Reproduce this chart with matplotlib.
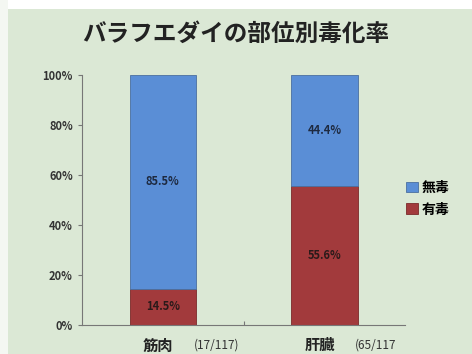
import matplotlib
matplotlib.use("Agg")
import matplotlib.pyplot as plt
from matplotlib.patches import Rectangle

plt.rcParams['font.family'] = ['Noto Sans CJK JP', 'DejaVu Sans']

# data
parts = ['筋肉', '肝臓']
part_counts = ['(17/117)', '(65/117']
toxic = [14.5, 55.6]
nontoxic = [85.5, 44.4]

bg = '#dbe8d5'
blue = '#5a8ed6'
red = '#a23a3c'

fig = plt.figure(figsize=(4.72, 3.54), dpi=100)
fig.patch.set_facecolor(bg)
# white border strip at top and left, as in the scanned picture
fig.add_artist(Rectangle((0, 0.975), 1, 0.025, transform=fig.transFigure,
                         facecolor='white', edgecolor='none'))
fig.add_artist(Rectangle((0, 0), 0.018, 1, transform=fig.transFigure,
                         facecolor='#f4f7f2', edgecolor='none'))

ax = fig.add_axes([0.1737, 0.082, 0.685, 0.706])
ax.set_facecolor(bg)

x = [0, 1]
ax.bar(x, toxic, width=0.41, color=red, edgecolor='#7a2a2a', linewidth=0.6,
       label='有毒')
ax.bar(x, nontoxic, width=0.41, bottom=toxic, color=blue,
       edgecolor='#4a6fa0', linewidth=0.6, label='無毒')

for i in range(len(x)):
    ax.text(x[i], toxic[i] / 2, f'{toxic[i]:.1f}%', ha='center', va='center',
            fontsize=8, fontweight='bold', color='#2a1a1a')
    ax.text(x[i], toxic[i] + nontoxic[i] / 2, f'{nontoxic[i]:.1f}%',
            ha='center', va='center', fontsize=8, fontweight='bold',
            color='#1e2a40')

ax.set_xlim(-0.5, 1.5)
ax.set_ylim(0, 100)
ax.set_yticks(range(0, 101, 20))
ax.set_yticklabels([f'{v}%' for v in range(0, 101, 20)], fontsize=8,
                   fontweight='bold', color='#333333')
ax.set_xticks([0.5])
ax.set_xticklabels([''])
ax.tick_params(axis='x', length=3, direction='in', color='#777777')
ax.tick_params(axis='y', length=3, color='#777777')
for s in ['top', 'right']:
    ax.spines[s].set_visible(False)
for s in ['left', 'bottom']:
    ax.spines[s].set_color('#777777')
    ax.spines[s].set_linewidth(0.8)

# category labels, shifted right of the bar centre like the original slide
for i in range(len(x)):
    ax.text(x[i] - 0.125, -5.0, parts[i], ha='left', va='top', fontsize=11,
            fontweight='bold', color='#222222', clip_on=False)
    ax.text(x[i] + 0.19, -5.5, part_counts[i], ha='left', va='top',
            fontsize=8.5, color='#333333', clip_on=False)

fig.text(0.5, 0.905, 'バラフエダイの部位別毒化率', ha='center', va='center',
         fontsize=17, fontweight='bold', color='#222222')

handles, labels = ax.get_legend_handles_labels()
ax.legend(handles[::-1], labels[::-1], loc='center left',
          bbox_to_anchor=(0.965, 0.505), frameon=False,
          prop={'weight': 'bold', 'size': 10}, handlelength=0.8,
          handleheight=0.8, handletextpad=0.3, labelspacing=0.55)

fig.savefig('out.png', dpi=100, facecolor=fig.get_facecolor())
